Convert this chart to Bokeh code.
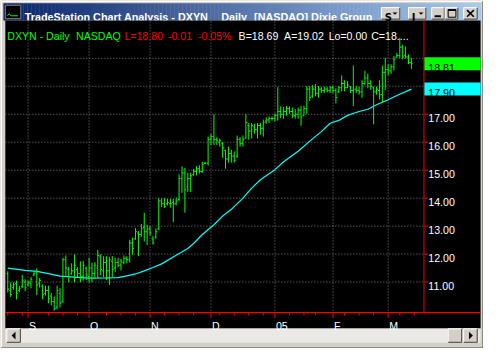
from bokeh.plotting import figure
from bokeh.models import Range1d
from bokeh.core.properties import value
from bokeh.embed import file_html
from bokeh.resources import INLINE

# ---------------- data ----------------
bar_high = [11.39, 10.99, 10.99, 11.05, 10.86, 11.25, 11.10, 11.05, 11.18, 11.39,
            11.49, 11.15, 10.91, 10.87, 10.87, 10.61, 10.49, 10.87, 10.78, 11.87,
            11.95, 11.55, 11.67, 11.99, 11.53, 11.74, 11.76, 11.55, 11.87, 11.69,
            11.71, 12.15, 11.99, 11.92, 11.92, 11.91, 11.93, 11.87, 11.87, 11.83,
            11.95, 11.92, 12.51, 12.59, 12.93, 12.82, 13.08, 13.48, 13.05, 13.00,
            12.64, 12.92, 14.00, 14.00, 14.00, 13.97, 13.97, 13.97, 14.02, 14.85,
            15.14, 15.08, 14.90, 14.91, 15.05, 15.14, 15.18, 15.30, 15.30, 16.20,
            16.30, 17.00, 16.18, 16.13, 16.01, 15.73, 15.84, 15.73, 15.67, 16.24,
            16.18, 16.24, 17.00, 16.69, 16.69, 16.66, 16.69, 16.69, 16.81, 16.89,
            16.92, 16.92, 17.03, 17.97, 17.28, 17.26, 17.30, 17.28, 17.24, 17.18,
            17.24, 17.30, 17.30, 18.01, 18.01, 18.05, 18.08, 18.01, 17.97, 17.99,
            17.97, 18.01, 18.01, 17.93, 18.01, 18.39, 18.22, 18.18, 18.01, 18.74,
            18.01, 17.99, 18.22, 18.56, 18.45, 18.22, 17.99, 17.99, 18.22, 18.74,
            19.02, 18.79, 18.79, 19.08, 19.20, 19.74, 19.48, 19.43, 19.14, 19.02]
bar_low = [10.63, 10.47, 10.72, 10.38, 10.63, 10.78, 10.67, 10.84, 10.78, 11.21,
           10.53, 10.80, 10.38, 10.52, 10.24, 10.17, 9.98, 10.03, 10.09, 10.26,
           11.18, 10.99, 11.26, 10.99, 11.16, 10.99, 11.05, 11.07, 10.99, 10.99,
           11.13, 11.15, 11.24, 11.18, 11.07, 10.89, 11.18, 11.36, 11.53, 11.41,
           11.64, 11.67, 11.70, 11.99, 12.51, 11.93, 12.62, 12.45, 12.32, 12.66,
           12.34, 12.55, 12.86, 13.68, 13.65, 13.74, 13.66, 13.14, 13.74, 13.89,
           14.19, 13.48, 14.22, 14.22, 14.80, 14.82, 14.88, 14.90, 15.22, 15.16,
           15.90, 15.90, 15.90, 15.84, 15.44, 15.05, 15.27, 15.27, 15.27, 15.44,
           15.84, 15.84, 16.13, 16.09, 16.13, 16.30, 16.13, 16.27, 16.20, 16.66,
           16.69, 16.77, 16.75, 16.77, 16.86, 16.84, 16.95, 17.01, 16.86, 16.84,
           16.84, 16.59, 16.95, 17.01, 17.47, 17.59, 17.64, 17.59, 17.76, 17.76,
           17.78, 17.76, 17.76, 17.39, 17.76, 17.82, 17.82, 17.93, 17.76, 17.30,
           17.76, 17.70, 17.59, 18.05, 17.93, 17.87, 16.64, 17.70, 17.53, 17.41,
           17.87, 18.39, 18.45, 18.56, 19.02, 19.00, 18.97, 18.99, 18.79, 18.62]
bar_open = [11.30, 10.70, 10.80, 10.95, 10.70, 10.85, 11.00, 10.90, 10.95, 11.25,
            11.35, 10.95, 10.85, 10.60, 10.70, 10.50, 10.30, 10.10, 10.60, 10.30,
            11.80, 11.45, 11.30, 11.40, 11.45, 11.30, 11.20, 11.50, 11.20, 11.50,
            11.30, 11.50, 11.90, 11.40, 11.70, 11.40, 11.75, 11.50, 11.70, 11.60,
            11.70, 11.85, 11.80, 12.40, 12.55, 12.75, 12.70, 12.95, 12.80, 12.90,
            12.55, 12.60, 12.90, 13.90, 13.80, 13.80, 13.80, 13.85, 13.80, 13.95,
            14.70, 14.90, 14.40, 14.70, 14.85, 14.95, 15.05, 14.95, 15.25, 15.25,
            16.10, 16.20, 16.10, 16.00, 15.95, 15.70, 15.40, 15.60, 15.50, 15.50,
            16.10, 15.95, 16.15, 16.60, 16.40, 16.55, 16.45, 16.60, 16.50, 16.75,
            16.80, 16.85, 16.85, 16.95, 17.10, 17.00, 17.10, 17.20, 17.10, 16.95,
            17.00, 17.15, 16.95, 17.20, 17.90, 17.65, 17.90, 17.75, 17.90, 17.85,
            17.90, 17.85, 17.95, 17.85, 17.80, 17.95, 18.10, 17.95, 18.00, 17.85,
            17.90, 17.85, 17.80, 18.10, 18.30, 18.10, 17.95, 17.80, 17.85, 17.70,
            18.50, 18.60, 18.55, 18.70, 19.05, 19.10, 19.40, 19.10, 19.05, 18.85]
bar_close = [10.75, 10.55, 10.90, 10.60, 10.78, 11.05, 10.80, 11.00, 11.10, 11.30,
             10.90, 11.05, 10.55, 10.70, 10.40, 10.30, 10.05, 10.70, 10.25, 11.80,
             11.50, 11.20, 11.40, 11.60, 11.30, 11.20, 11.60, 11.25, 11.50, 11.30,
             11.60, 11.95, 11.45, 11.70, 11.40, 11.80, 11.45, 11.70, 11.60, 11.75,
             11.85, 11.80, 12.40, 12.20, 12.80, 12.70, 12.90, 12.80, 12.90, 12.75,
             12.40, 12.80, 13.90, 13.80, 13.70, 13.85, 13.80, 13.80, 13.90, 14.70,
             14.90, 14.30, 14.70, 14.80, 14.95, 15.05, 14.95, 15.20, 15.25, 16.10,
             16.20, 16.10, 16.05, 16.05, 15.80, 15.40, 15.60, 15.50, 15.35, 16.10,
             15.95, 16.10, 16.70, 16.40, 16.60, 16.45, 16.60, 16.50, 16.70, 16.80,
             16.85, 16.85, 16.95, 17.10, 17.00, 17.10, 17.20, 17.10, 16.95, 17.00,
             17.15, 16.90, 17.20, 17.90, 17.60, 17.90, 17.75, 17.90, 17.85, 17.90,
             17.85, 17.95, 17.85, 17.60, 17.95, 18.10, 17.95, 18.05, 17.85, 17.90,
             17.85, 17.80, 18.10, 18.30, 18.10, 18.00, 17.80, 17.90, 17.70, 18.50,
             18.60, 18.55, 18.70, 18.95, 19.10, 19.40, 19.05, 19.05, 18.85, 18.81]

ma_bar = [0, 6, 10, 14, 18, 24, 28, 34, 38, 41, 44, 47, 50, 53, 58, 62, 64, 67, 71, 74,
          77, 81, 84, 87, 92, 95, 100, 105, 108, 111, 114, 117, 121, 124, 127, 131, 134, 139]
ma_value = [11.50, 11.42, 11.38, 11.30, 11.21, 11.17, 11.14, 11.15, 11.16, 11.22,
            11.29, 11.40, 11.52, 11.65, 11.96, 12.20, 12.38, 12.70, 13.05, 13.36,
            13.60, 14.00, 14.36, 14.66, 15.02, 15.30, 15.68, 16.13, 16.38, 16.68,
            16.78, 16.96, 17.10, 17.18, 17.34, 17.52, 17.67, 17.90]

price_ticks = [11, 12, 13, 14, 15, 16, 17, 18, 19]
price_labels = ["11.00", "12.00", "13.00", "14.00", "15.00", "16.00", "17.00", "18.00", "19.00"]
month_bars = [7, 28, 49, 70, 92, 112, 131]
month_labels = ["S", "O", "N", "D", "05", "F", "M"]
week_bars = [0, 5, 14, 19, 24, 34, 39, 44, 54, 59, 64, 73, 78, 83, 88, 97, 102, 106,
             116, 121, 126, 135, 140]
status_texts = ["DXYN - Daily", "NASDAQ", "L=18.80", "-0.01", "-0.05%",
                "B=18.69", "A=19.02", "Lo=0.00", "C=18...."]
status_colors = ["#00ff00", "#00ff00", "#ff0000", "#ff0000", "#ff0000",
                 "#ffffff", "#ffffff", "#ffffff", "#ffffff"]
title_parts = ["TradeStation Chart Analysis - DXYN", "Daily", "[NASDAQ] Dixie Group"]

bar_idx = list(range(len(bar_high)))

# ---------------- layout (window pixel geometry, whole 499x364 window) ----------------
WX0, WX1 = 0, 499
WY0, WY1 = 0, 364
BAR_X0, BAR_DX = 7.5, 3.0  # bar 0 column, pixels per bar
P_REF, Y_REF, PX_PER = 11.0, 294.5, 29.25

FONT = value("Liberation Sans")
FS = "10.6px"
GRAY = "#d4d0c8"

p = figure(width=483, height=348,
           x_range=Range1d(WX0, WX1), y_range=Range1d(WY1, WY0),
           output_backend="svg", toolbar_location=None,
           x_axis_location=None, y_axis_location=None,
           min_border=0, background_fill_color=GRAY, border_fill_color=GRAY,
           outline_line_color=None)
p.title.visible = False
for g in p.grid:
    g.visible = False
p.extra_x_ranges = {"bar": Range1d((WX0 - BAR_X0) / BAR_DX, (WX1 - BAR_X0) / BAR_DX)}
p.extra_y_ranges = {"price": Range1d(P_REF - (WY1 - Y_REF) / PX_PER,
                                     P_REF + (Y_REF - WY0) / PX_PER)}

# window frame highlights
p.line(x=[1, 1, 498], y=[363, 1, 1], line_color="#ffffff", line_width=1)
p.line(x=[0.5, 498.5, 498.5], y=[363.5, 363.5, 0.5], line_color="#404040", line_width=1)

# ---- title bar (gradient) ----
n = 120
x_l, x_r = 3.0, 496.0
c0, c1 = (10, 36, 106), (166, 202, 240)
lefts, rights, cols = [], [], []
for k in range(n):
    t = k / (n - 1)
    lefts.append(x_l + (x_r - x_l) * k / n)
    rights.append(x_l + (x_r - x_l) * (k + 1) / n + 0.3)
    cols.append("#%02x%02x%02x" % tuple(int(round(a + (b - a) * t)) for a, b in zip(c0, c1)))
p.quad(left=lefts, right=rights, top=[3] * n, bottom=[21] * n, fill_color=cols, line_color=None)

# icon
p.quad(left=[5], right=[21], top=[5], bottom=[19], fill_color="#000000", line_color="#808080")
p.line(x=[7, 9, 11, 13, 18], y=[16, 14, 16, 16, 16], line_color="#00ff00", line_width=1)

p.text(x=[25, 228, 262], y=[17, 17, 17], text=title_parts, text_color="#ffffff",
       text_font=FONT, text_font_size="10.8px", text_font_style="bold",
       text_baseline="alphabetic", text_align="left")


def button(x0, x1, y0, y1):
    p.quad(left=[x0], right=[x1], top=[y0], bottom=[y1], fill_color=GRAY, line_color=None)
    p.line(x=[x0 + 0.5, x0 + 0.5, x1 - 0.5], y=[y1 - 0.5, y0 + 0.5, y0 + 0.5],
           line_color="#ffffff", line_width=1)
    p.line(x=[x0 + 0.5, x1 - 0.5, x1 - 0.5], y=[y1 - 0.5, y1 - 0.5, y0 + 0.5],
           line_color="#404040", line_width=1)


button(393, 413, 7, 20)
button(421, 440, 7, 20)
button(445, 459, 7, 20)
button(459, 473, 7, 20)
button(478, 493, 7, 20)
p.text(x=[397, 425], y=[17.5, 17.5], text=["S", "I"], text_color="#000000",
       text_font=value("DejaVu Sans"), text_font_size="10px", text_font_style="bold",
       text_baseline="alphabetic", text_align="left")
p.patches(xs=[[405, 410, 407.5], [432, 437, 434.5]], ys=[[12.5, 12.5, 15], [12.5, 12.5, 15]],
          fill_color="#000000", line_color=None)
p.quad(left=[448.5], right=[455], top=[15.5], bottom=[17.5], fill_color="#000000", line_color=None)
p.quad(left=[462.5], right=[470.5], top=[9.5], bottom=[17.5], fill_color=None, line_color="#000000")
p.quad(left=[462.5], right=[470.5], top=[9.5], bottom=[11], fill_color="#000000", line_color=None)
p.segment(x0=[482, 482], y0=[10, 17], x1=[489, 489], y1=[17, 10], line_color="#000000", line_width=1.6)

# ---- chart background ----
p.quad(left=[5], right=[496], top=[21], bottom=[343], fill_color="#000000", line_color=None)

# ---- scrollbar ----
p.quad(left=[5], right=[496], top=[343], bottom=[358], fill_color="#ebe9e5", line_color=None)
button(6, 21, 343, 358)
button(462, 477, 343, 358)
button(478, 493, 343, 358)
p.patches(xs=[[11.5, 15.5, 15.5], [484, 484, 488]], ys=[[350.5, 346.5, 354.5], [346.5, 354.5, 350.5]],
          fill_color="#000000", line_color=None)

# ---- grid ----
p.segment(x0=[5] * len(price_ticks), x1=[437] * len(price_ticks), y0=price_ticks, y1=price_ticks,
          y_range_name="price", line_color="#7a7a7a", line_dash="1 2", line_width=1)
p.segment(x0=month_bars, x1=month_bars, y0=[22] * len(month_bars), y1=[326] * len(month_bars),
          x_range_name="bar", line_color="#7a7a7a", line_dash="1 2", line_width=1)

# ---- moving average ----
p.line(x=ma_bar, y=ma_value, x_range_name="bar", y_range_name="price",
       line_color="#00ffff", line_width=1.2)

# ---- OHLC bars ----
GREEN = "#00ff00"
p.segment(x0=bar_idx, x1=bar_idx, y0=bar_low, y1=bar_high,
          x_range_name="bar", y_range_name="price", line_color=GREEN, line_width=1)
p.segment(x0=[i - 0.45 for i in bar_idx], x1=bar_idx, y0=bar_open, y1=bar_open,
          x_range_name="bar", y_range_name="price", line_color=GREEN, line_width=1)
p.segment(x0=bar_idx, x1=[i + 0.45 for i in bar_idx], y0=bar_close, y1=bar_close,
          x_range_name="bar", y_range_name="price", line_color=GREEN, line_width=1)

# ---- axes (red) ----
RED = "#ff0000"
p.segment(x0=[437.5], x1=[437.5], y0=[21], y1=[327], line_color=RED, line_width=1)
p.segment(x0=[5], x1=[496], y0=[326.5], y1=[326.5], line_color=RED, line_width=1.2)
p.segment(x0=[438] * len(price_ticks), x1=[442] * len(price_ticks), y0=price_ticks, y1=price_ticks,
          y_range_name="price", line_color=RED, line_width=1)
p.segment(x0=month_bars, x1=month_bars, y0=[327] * len(month_bars), y1=[332] * len(month_bars),
          x_range_name="bar", line_color=RED, line_width=1)
p.segment(x0=week_bars, x1=week_bars, y0=[327] * len(week_bars), y1=[329.5] * len(week_bars),
          x_range_name="bar", line_color=RED, line_width=1)

p.text(x=[442] * len(price_ticks), y=price_ticks, text=price_labels, y_range_name="price",
       y_offset=4, text_color="#ffffff", text_font=FONT, text_font_size=FS,
       text_baseline="alphabetic", text_align="left")
p.text(x=month_bars, y=[340] * len(month_bars), text=month_labels, x_range_name="bar",
       x_offset=1, text_color="#ffffff", text_font=FONT, text_font_size=FS,
       text_baseline="alphabetic", text_align="left")

# last price / average boxes
last_close = bar_close[-1]
last_ma = ma_value[-1]
p.rect(x=[467, 467], y=[last_close, last_ma], width=[58, 58], height=[13, 13],
       height_units="screen", y_range_name="price",
       fill_color=["#00ff00", "#00ffff"], line_color=None)
p.text(x=[442, 442], y=[last_close, last_ma], text=["%.2f" % last_close, "%.2f" % last_ma],
       y_range_name="price", y_offset=4, text_color="#000000", text_font=FONT,
       text_font_size=FS, text_baseline="alphabetic", text_align="left")

# ---- status line ----
p.text(x=[7, 78, 128, 173, 204, 246, 293, 339, 383], y=[37] * len(status_texts), text=status_texts,
       text_color=status_colors, text_font=FONT, text_font_size=FS,
       text_baseline="alphabetic", text_align="left")

open("out.html", "w").write(file_html(p, INLINE))
